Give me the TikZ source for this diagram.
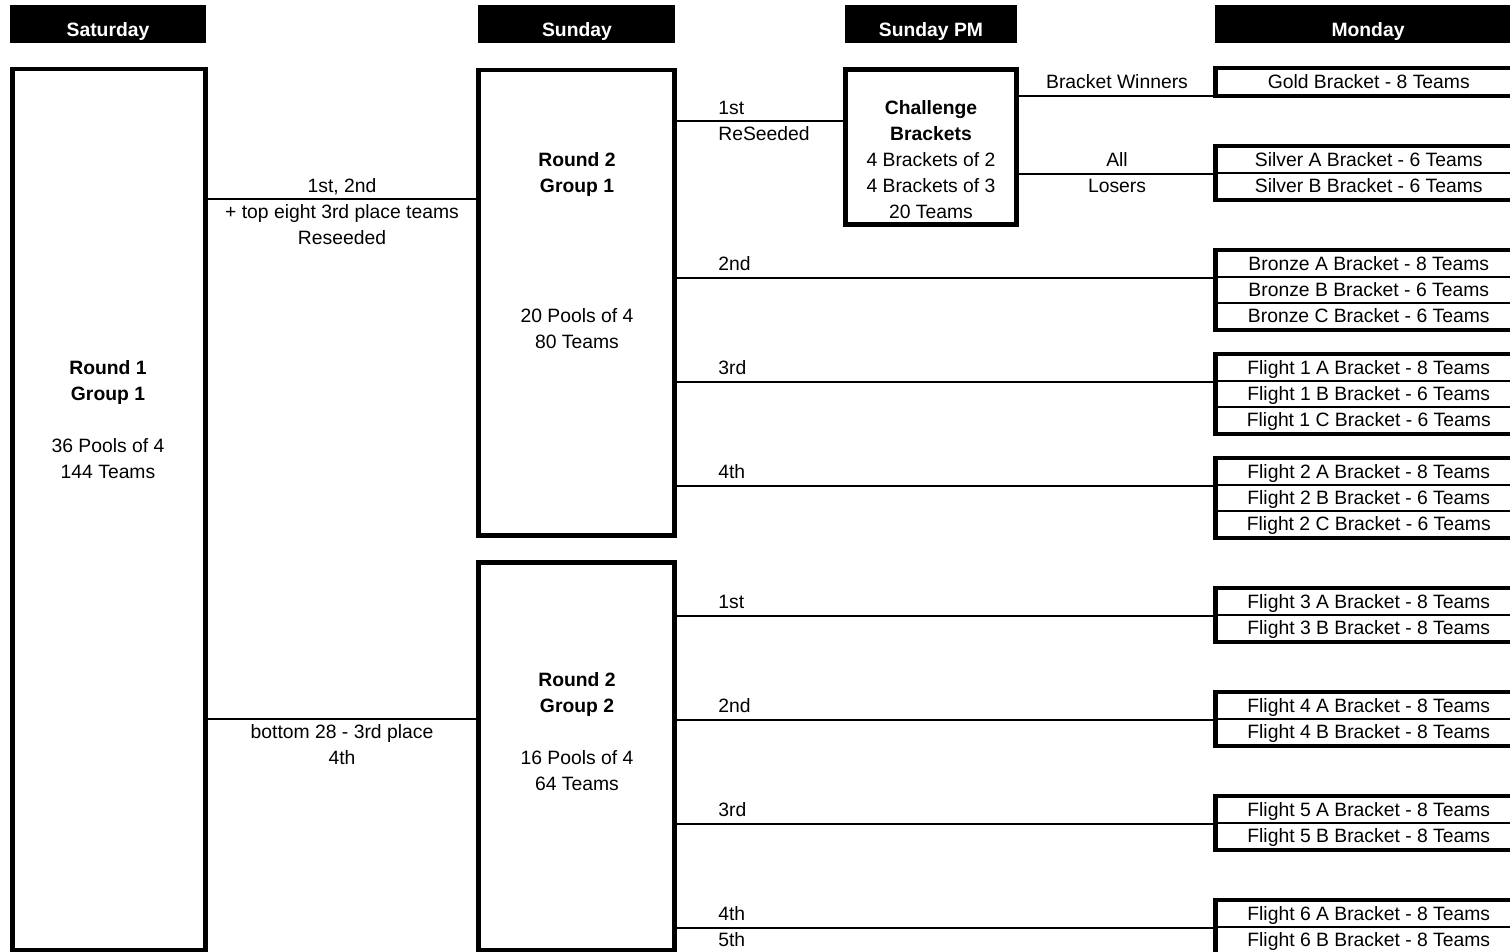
\documentclass[tikz,border=0pt]{standalone}
\usepackage{fontspec}
\setmainfont{Liberation Sans}
\usetikzlibrary{fit}

\begin{document}
\begin{tikzpicture}[
            x=0.02cm, y=-0.02cm,
            font=\fontsize{11}{13}\selectfont,
            hdr/.style={fill=black,inner sep=0pt},
            hdrtxt/.style={text=white,font=\fontsize{11}{13}\selectfont\bfseries,text height=7.9pt,text depth=0pt,inner sep=0pt},
            box/.style={draw,line width=2.6pt,inner sep=0pt},
            txt/.style={text height=7.9pt,text depth=0pt,inner sep=0pt},
            btxt/.style={txt,font=\fontsize{11}{13}\selectfont\bfseries},
            lft/.style={txt,anchor=west},
            brk/.style={draw,line width=1.1pt,minimum width=6.09cm,minimum height=0.52cm,inner sep=0pt,text height=7.9pt,text depth=0pt},
            link/.style={line width=1.1pt}
        ]
            \useasboundingbox (0,0) rectangle (1510,952);
            \clip (0,0) rectangle (1510,952);

            % day headers
            \node[hdr,fit={(10,5) (206,43)}]    (satH) {};
            \node[hdr,fit={(478,5) (675,43)}]   (sunH) {};
            \node[hdr,fit={(845,5) (1017,43)}]  (pmH)  {};
            \node[hdr,fit={(1215,5) (1525,43)}] (monH) {};
            \node[hdrtxt] (satT) at (108,30)  {Saturday};
            \node[hdrtxt] (sunT) at (577,30)  {Sunday};
            \node[hdrtxt] (pmT)  at (931,30)  {Sunday PM};
            \node[hdrtxt] (monT) at (1368,30) {Monday};

            % round boxes
            \node[box,fit={(12.5,69) (205.5,950)}]    (r1)   {};
            \node[box,fit={(478.5,70) (674.5,535.5)}] (r2a)  {};
            \node[box,fit={(478.5,562.5) (674.5,950)}] (r2b) {};
            \node[box,fit={(845.5,69.5) (1016.5,224.5)}] (chal) {};

            \node[btxt] (r1t0) at (108,368) {Round 1};
            \node[btxt] (r1t1) at (108,394) {Group 1};
            \node[txt]  (r1t2) at (108,446) {36 Pools of 4};
            \node[txt]  (r1t3) at (108,472) {144 Teams};

            \node[btxt] (r2at0) at (577,160) {Round 2};
            \node[btxt] (r2at1) at (577,186) {Group 1};
            \node[txt]  (r2at2) at (577,316) {20 Pools of 4};
            \node[txt]  (r2at3) at (577,342) {80 Teams};

            \node[btxt] (r2bt0) at (577,680) {Round 2};
            \node[btxt] (r2bt1) at (577,706) {Group 2};
            \node[txt]  (r2bt2) at (577,758) {16 Pools of 4};
            \node[txt]  (r2bt3) at (577,784) {64 Teams};

            \node[btxt] (ct0) at (931,108) {Challenge};
            \node[btxt] (ct1) at (931,134) {Brackets};
            \node[txt]  (ct2) at (931,160) {4 Brackets of 2};
            \node[txt]  (ct3) at (931,186) {4 Brackets of 3};
            \node[txt]  (ct4) at (931,212) {20 Teams};

            % monday brackets
            \node[brk] (gold)  at (1368.75,82)  {Gold Bracket - 8 Teams};
            \node[brk] (silvA) at (1368.75,160) {Silver A Bracket - 6 Teams};
            \node[brk] (silvB) at (1368.75,186) {Silver B Bracket - 6 Teams};
            \node[brk] (bronA) at (1368.75,264) {Bronze A Bracket - 8 Teams};
            \node[brk] (bronB) at (1368.75,290) {Bronze B Bracket - 6 Teams};
            \node[brk] (bronC) at (1368.75,316) {Bronze C Bracket - 6 Teams};
            \node[brk] (fl1A)  at (1368.75,368) {Flight 1 A Bracket - 8 Teams};
            \node[brk] (fl1B)  at (1368.75,394) {Flight 1 B Bracket - 6 Teams};
            \node[brk] (fl1C)  at (1368.75,420) {Flight 1 C Bracket - 6 Teams};
            \node[brk] (fl2A)  at (1368.75,472) {Flight 2 A Bracket - 8 Teams};
            \node[brk] (fl2B)  at (1368.75,498) {Flight 2 B Bracket - 6 Teams};
            \node[brk] (fl2C)  at (1368.75,524) {Flight 2 C Bracket - 6 Teams};
            \node[brk] (fl3A)  at (1368.75,602) {Flight 3 A Bracket - 8 Teams};
            \node[brk] (fl3B)  at (1368.75,628) {Flight 3 B Bracket - 8 Teams};
            \node[brk] (fl4A)  at (1368.75,706) {Flight 4 A Bracket - 8 Teams};
            \node[brk] (fl4B)  at (1368.75,732) {Flight 4 B Bracket - 8 Teams};
            \node[brk] (fl5A)  at (1368.75,810) {Flight 5 A Bracket - 8 Teams};
            \node[brk] (fl5B)  at (1368.75,836) {Flight 5 B Bracket - 8 Teams};
            \node[brk] (fl6A)  at (1368.75,914) {Flight 6 A Bracket - 8 Teams};
            \node[brk] (fl6B)  at (1368.75,940) {Flight 6 B Bracket - 8 Teams};

            \node[box,fit=(gold)]          (goldBox) {};
            \node[box,fit=(silvA)(silvB)]  (silvBox) {};
            \node[box,fit=(bronA)(bronC)]  (bronBox) {};
            \node[box,fit=(fl1A)(fl1C)]    (fl1Box)  {};
            \node[box,fit=(fl2A)(fl2C)]    (fl2Box)  {};
            \node[box,fit=(fl3A)(fl3B)]    (fl3Box)  {};
            \node[box,fit=(fl4A)(fl4B)]    (fl4Box)  {};
            \node[box,fit=(fl5A)(fl5B)]    (fl5Box)  {};
            \node[box,fit=(fl6A)(fl6B)]    (fl6Box)  {};

            % connector labels
            \node[txt] (l1) at (342,186) {1st, 2nd};
            \node[txt] (l2) at (342,212) {+ top eight 3rd place teams};
            \node[txt] (l3) at (342,238) {Reseeded};
            \node[txt] (l4) at (342,732) {bottom 28 - 3rd place};
            \node[txt] (l5) at (342,758) {4th};

            \node[lft] (d1)  at (718,108) {1st};
            \node[lft] (d2)  at (718,134) {ReSeeded};
            \node[lft] (d3)  at (718,264) {2nd};
            \node[lft] (d4)  at (718,368) {3rd};
            \node[lft] (d5)  at (718,472) {4th};
            \node[lft] (d6)  at (718,602) {1st};
            \node[lft] (d7)  at (718,706) {2nd};
            \node[lft] (d8)  at (718,810) {3rd};
            \node[lft] (d9)  at (718,914) {4th};
            \node[lft] (d10) at (718,940) {5th};

            \node[txt] (f1) at (1117,82)  {Bracket Winners};
            \node[txt] (f2) at (1117,160) {All};
            \node[txt] (f3) at (1117,186) {Losers};

            % connectors
            \begin{scope}[link]
                \draw (r1.east |- 0,199) -- (r2a.west |- 0,199);
                \draw (r1.east |- 0,719) -- (r2b.west |- 0,719);
                \draw (r2a.east |- 0,121) -- (chal.west |- 0,121);
                \draw (chal.east |- gold.south west)  -- (gold.south west);
                \draw (chal.east |- silvA.south west) -- (silvA.south west);
                \draw (r2a.east |- bronA.south west)  -- (bronA.south west);
                \draw (r2a.east |- fl1A.south west)   -- (fl1A.south west);
                \draw (r2a.east |- fl2A.south west)   -- (fl2A.south west);
                \draw (r2b.east |- fl3A.south west)   -- (fl3A.south west);
                \draw (r2b.east |- fl4A.south west)   -- (fl4A.south west);
                \draw (r2b.east |- fl5A.south west)   -- (fl5A.south west);
                \draw (r2b.east |- fl6A.south west)   -- (fl6A.south west);
            \end{scope}
        \end{tikzpicture}
\end{document}
